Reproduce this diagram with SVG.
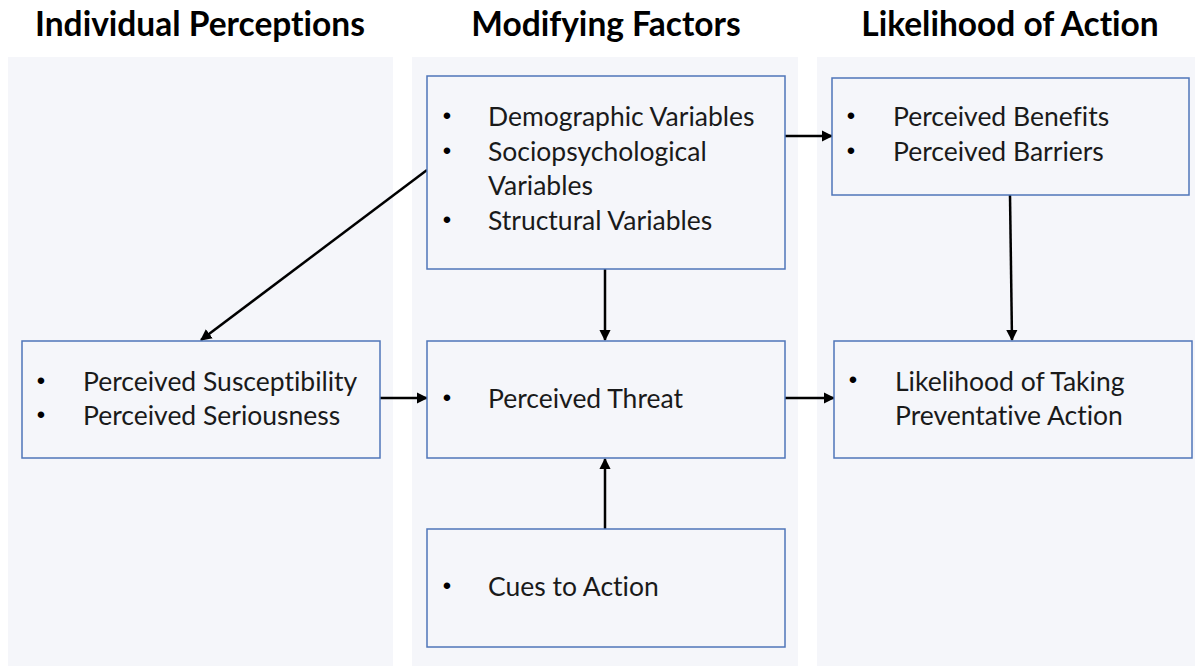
<svg xmlns="http://www.w3.org/2000/svg" width="1195" height="666" viewBox="0 0 1195 666">
  <style>
    .panel { fill: #f5f6fa; }
    .box { fill: #f5f6fa; stroke: #4f76b9; stroke-width: 1.5; }
    .head { font-family: Lato, "Open Sans", sans-serif; font-weight: 700; font-size: 33.5px; fill: #000; font-variant-ligatures: none; }
    .txt { font-family: Lato, "Open Sans", sans-serif; font-size: 26.5px; fill: #1a1a1a; font-variant-ligatures: none; }
    .bul { font-family: "Liberation Sans", sans-serif; font-size: 24px; fill: #000; text-anchor: middle; }
    .edge { stroke: #000; stroke-width: 2.5; fill: none; marker-end: url(#arrow); }
  </style>
  <defs>
    <marker id="arrow" viewBox="0 0 10 10" refX="9" refY="5" markerWidth="4.6" markerHeight="4.6" orient="auto" markerUnits="strokeWidth">
      <path d="M0,0 L10,5 L0,10 Z" fill="#000"/>
    </marker>
  </defs>

  <rect width="1195" height="666" fill="#ffffff"/>

  <!-- column panels -->
  <rect class="panel" x="8" y="57" width="385" height="609"/>
  <rect class="panel" x="412" y="57" width="386" height="609"/>
  <rect class="panel" x="817" y="57" width="378" height="609"/>

  <!-- column headings -->
  <text class="head" x="200" y="36" text-anchor="middle">Individual Perceptions</text>
  <text class="head" x="606" y="36" text-anchor="middle">Modifying Factors</text>
  <text class="head" x="1010" y="36" text-anchor="middle">Likelihood of Action</text>

  <!-- connectors -->
  <g id="connectors">
    <line class="edge" x1="785" y1="136" x2="832" y2="136"/>
    <line class="edge" x1="427" y1="170" x2="201" y2="340"/>
    <line class="edge" x1="605" y1="269" x2="605" y2="340"/>
    <line class="edge" x1="1010" y1="195" x2="1012" y2="340"/>
    <line class="edge" x1="380" y1="398" x2="427" y2="398"/>
    <line class="edge" x1="785" y1="398" x2="834" y2="398"/>
    <line class="edge" x1="605" y1="529" x2="605" y2="459"/>
  </g>

  <g id="modifying-variables">
    <rect class="box" x="427" y="76" width="358" height="193"/>
    <text class="bul" x="447" y="124">•</text>
    <text class="txt" x="488" y="126">Demographic Variables</text>
    <text class="bul" x="447" y="159">•</text>
    <text class="txt" x="488" y="161">Sociopsychological</text>
    <text class="txt" x="488" y="195">Variables</text>
    <text class="bul" x="447" y="228">•</text>
    <text class="txt" x="488" y="230">Structural Variables</text>
  </g>

  <g id="benefits-barriers">
    <rect class="box" x="832" y="78" width="357" height="117"/>
    <text class="bul" x="851" y="124">•</text>
    <text class="txt" x="893" y="126">Perceived Benefits</text>
    <text class="bul" x="851" y="159">•</text>
    <text class="txt" x="893" y="161">Perceived Barriers</text>
  </g>

  <g id="individual-perceptions">
    <rect class="box" x="22" y="341" width="358" height="117"/>
    <text class="bul" x="41" y="389">•</text>
    <text class="txt" x="83" y="391">Perceived Susceptibility</text>
    <text class="bul" x="41" y="423">•</text>
    <text class="txt" x="83" y="425">Perceived Seriousness</text>
  </g>

  <g id="perceived-threat">
    <rect class="box" x="427" y="341" width="358" height="117"/>
    <text class="bul" x="447" y="406">•</text>
    <text class="txt" x="488" y="408">Perceived Threat</text>
  </g>

  <g id="likelihood-action">
    <rect class="box" x="834" y="341" width="358" height="117"/>
    <text class="bul" x="853" y="388">•</text>
    <text class="txt" x="895" y="391">Likelihood of Taking</text>
    <text class="txt" x="895" y="425">Preventative Action</text>
  </g>

  <g id="cues-to-action">
    <rect class="box" x="427" y="529" width="358" height="118"/>
    <text class="bul" x="447" y="594">•</text>
    <text class="txt" x="488" y="596">Cues to Action</text>
  </g>
</svg>
